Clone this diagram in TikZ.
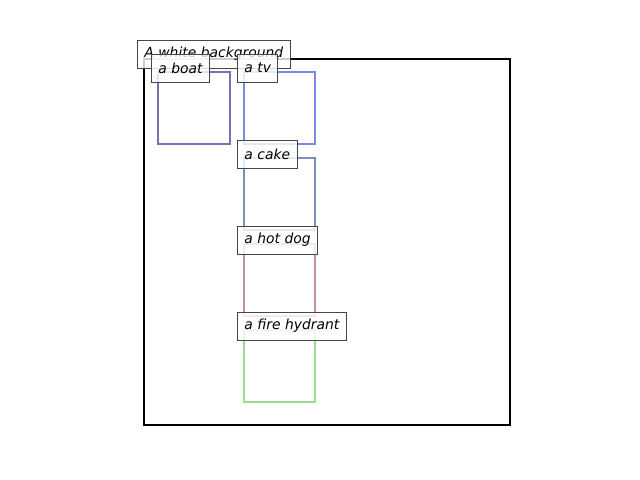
\documentclass[tikz,border=0pt]{standalone}
\usepackage{fontspec}
\newfontfamily\labfont{DejaVu Sans}
\definecolor{cboat}{RGB}{125,110,180}
\definecolor{ctv}{RGB}{120,140,225}
\definecolor{ccake}{RGB}{120,145,180}
\definecolor{chot}{RGB}{195,145,150}
\definecolor{cfire}{RGB}{150,222,140}
\definecolor{edge}{RGB}{70,70,70}
\begin{document}
\begin{tikzpicture}[x=0.72pt,y=-0.72pt,
  lab/.style={draw=edge,line width=0.72pt,fill=white,fill opacity=0.8,text opacity=1,
    font=\labfont\itshape\fontsize{10pt}{12pt}\selectfont,inner xsep=5pt,inner ysep=0pt,
    minimum height=20.16pt,anchor=west},
  obj/.style={line width=2.1pt}]
\useasboundingbox (0,0) rectangle (640,480);
\draw[line width=1.5pt] (144,59) rectangle (510,425);
\draw[obj,cboat] (158,72) rectangle (230,144);
\draw[obj,ctv] (244,72) rectangle (315,144);
\draw[obj,ccake] (244,158) rectangle (315,230);
\draw[obj,chot] (244,244) rectangle (315,316);
\draw[obj,cfire] (244,330) rectangle (315,402);
\node[lab] (bg) at (137,54) {A white background};
\node[lab] (boat) at (151,68) {a boat};
\node[lab] (tv) at (237,68) {a tv};
\node[lab] (cake) at (237,154) {a cake};
\node[lab] (hotdog) at (237,240) {a hot dog};
\node[lab] (fire) at (237,326) {a fire hydrant};
\end{tikzpicture}
\end{document}
